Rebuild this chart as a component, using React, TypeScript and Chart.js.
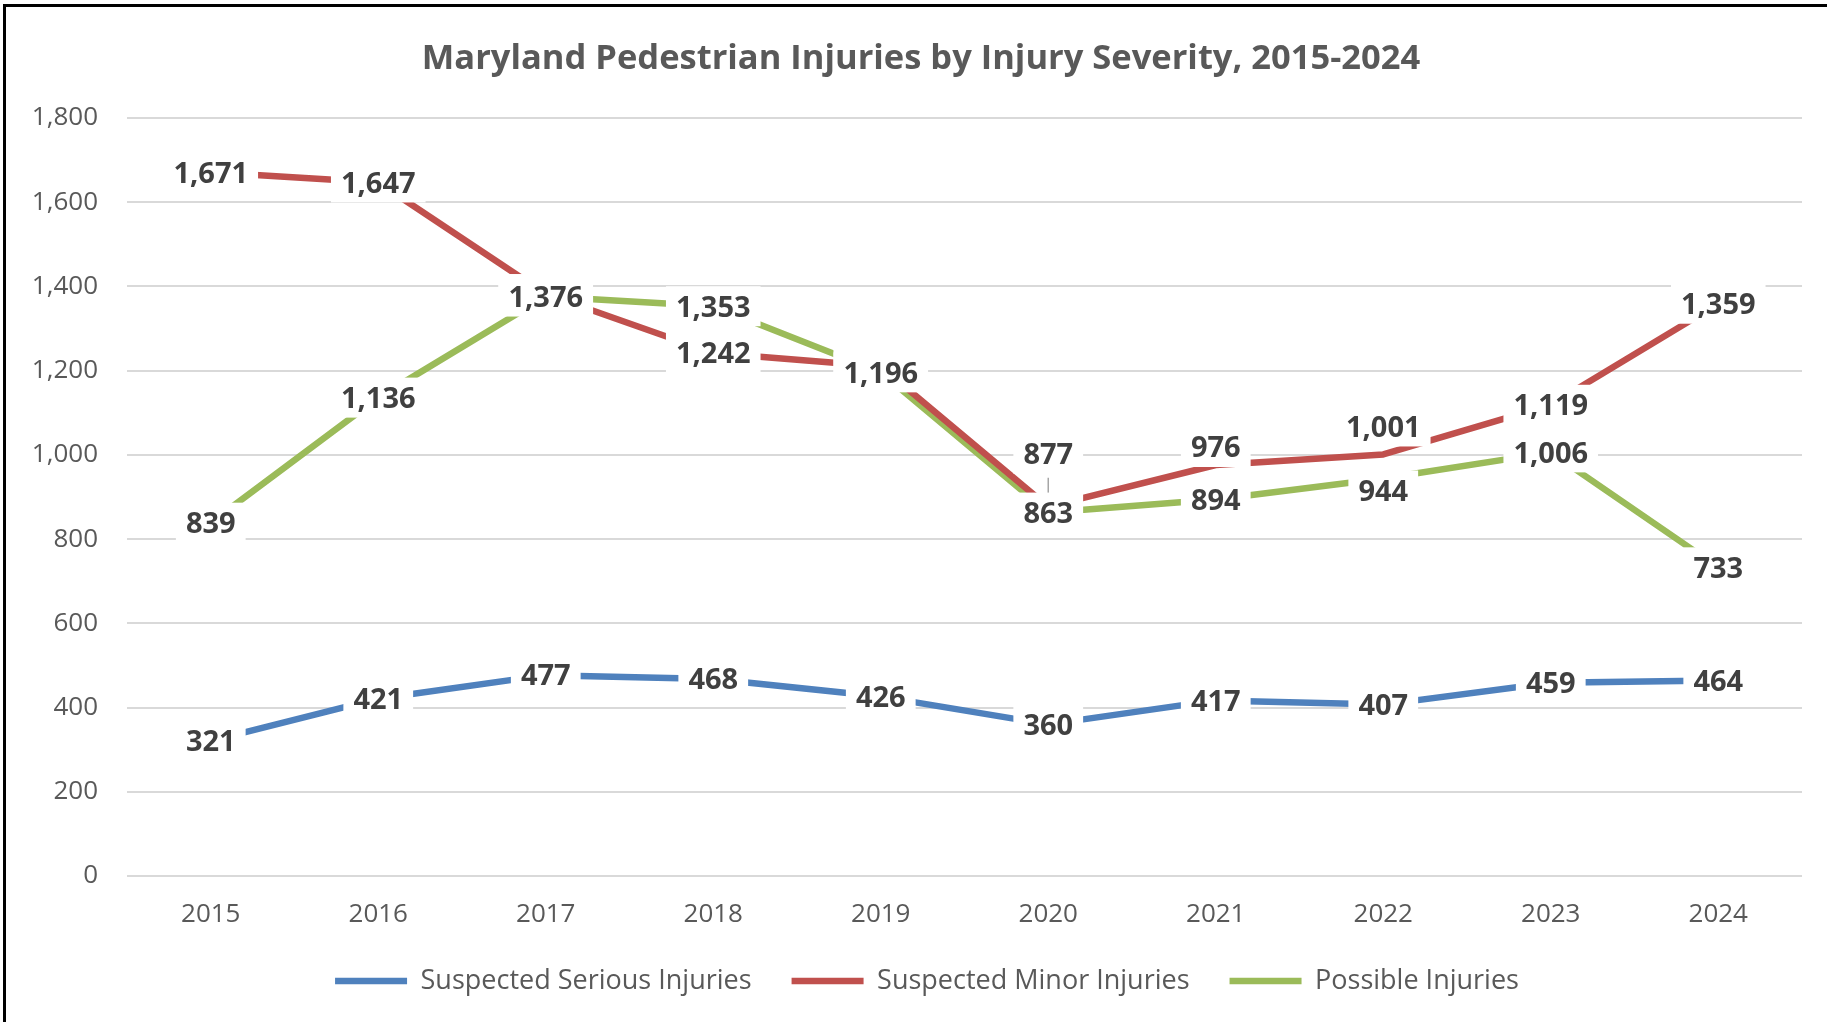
import React, { useEffect, useRef } from "react";
import { Chart, registerables } from "chart.js";

Chart.register(...registerables);

// ---- data ----
const years = ["2015", "2016", "2017", "2018", "2019", "2020", "2021", "2022", "2023", "2024"];
const seriousInjuries = [321, 421, 477, 468, 426, 360, 417, 407, 459, 464];
const minorInjuries = [1671, 1647, 1382, 1242, 1210, 877, 976, 1001, 1119, 1359];
const possibleInjuries = [839, 1136, 1376, 1353, 1196, 863, 894, 944, 1006, 733];
const seriesNames = ["Suspected Serious Injuries", "Suspected Minor Injuries", "Possible Injuries"];
const seriesColors = ["#4F81BD", "#C0504D", "#9BBB59"];
const titleText = "Maryland Pedestrian Injuries by Injury Severity, 2015-2024";
const yMin = 0;
const yMax = 1800;
const yStep = 200;

// manual label nudges (pixels), by dataset index then point index
const labelShift: Record<number, Record<number, number>> = {
  1: { 5: -53, 6: -18, 7: -28 },
  2: { 7: 12 },
};

const FONT = "'Open Sans', 'Noto Sans', sans-serif";
const fmt = (v: number) => v.toLocaleString("en-US");

const valueLabels = {
  id: "valueLabels",
  afterDatasetsDraw(chart: any) {
    const ctx: CanvasRenderingContext2D = chart.ctx;
    ctx.save();
    ctx.font = `bold 29px ${FONT}`;
    ctx.textAlign = "center";
    ctx.textBaseline = "middle";
    const boxH = 40;
    const padX = 10;
    chart.data.datasets.forEach((ds: any, di: number) => {
      const meta = chart.getDatasetMeta(di);
      meta.data.forEach((pt: any, i: number) => {
        const v = ds.data[i] as number;
        const text = fmt(v);
        const shift = (labelShift[di] && labelShift[di][i]) || 0;
        const x = pt.x;
        const y = pt.y + shift;
        if (Math.abs(shift) > 40) {
          ctx.strokeStyle = "#A6A6A6";
          ctx.lineWidth = 1.5;
          ctx.beginPath();
          ctx.moveTo(x, y + boxH / 2 + 4);
          ctx.lineTo(x, pt.y - 3);
          ctx.stroke();
        }
        const w = ctx.measureText(text).width + padX * 2;
        ctx.fillStyle = "#FFFFFF";
        ctx.fillRect(x - w / 2, y - boxH / 2, w, boxH);
        ctx.fillStyle = "#404040";
        ctx.fillText(text, x, y + 2);
      });
    });
    ctx.restore();
  },
};

// nudge title and legend boxes horizontally so they are centred like the original
const boxNudge = {
  id: "boxNudge",
  afterLayout(chart: any) {
    if (chart.titleBlock) {
      chart.titleBlock.left += 20;
      chart.titleBlock.right += 20;
    }
    if (chart.legend) {
      chart.legend.left += 26;
      chart.legend.right += 26;
    }
  },
};

export default function App() {
  const ref = useRef<HTMLCanvasElement>(null);

  useEffect(() => {
    const seriesData = [seriousInjuries, minorInjuries, possibleInjuries];
    const chart = new Chart(ref.current as HTMLCanvasElement, {
      type: "line",
      data: {
        labels: years,
        datasets: seriesData.map((d, k) => ({
          label: seriesNames[k],
          data: d,
          borderColor: seriesColors[k],
          backgroundColor: seriesColors[k],
          borderWidth: 6.5,
          pointRadius: 0,
          pointHoverRadius: 0,
          tension: 0,
          fill: false,
          borderCapStyle: "round" as const,
          borderJoinStyle: "round" as const,
        })),
      },
      options: {
        animation: false,
        responsive: false,
        maintainAspectRatio: false,
        layout: { padding: { left: 0, right: 25, top: 0, bottom: 17.5 } },
        plugins: {
          title: {
            display: true,
            text: titleText,
            color: "#595959",
            font: { family: FONT, size: 34.5, weight: "bold" },
            padding: { top: 38, bottom: 38.6 },
          },
          legend: {
            position: "bottom",
            labels: {
              usePointStyle: true,
              pointStyle: "line",
              pointStyleWidth: 72,
              boxHeight: 7,
              padding: 40,
              color: "#595959",
              font: { family: FONT, size: 27 },
            },
          },
          tooltip: { enabled: false },
        },
        scales: {
          x: {
            offset: true,
            grid: { display: false, drawTicks: false },
            border: { display: false },
            ticks: { color: "#595959", font: { family: FONT, size: 26 }, padding: 23 },
            afterFit: (s: any) => {
              s.height = 51.5;
            },
          },
          y: {
            min: yMin,
            max: yMax,
            grid: { color: "#D9D9D9", lineWidth: 2, drawTicks: false },
            border: { display: false },
            ticks: {
              stepSize: yStep,
              color: "#595959",
              font: { family: FONT, size: 26 },
              padding: 29,
              callback: (v: any) => fmt(Number(v)),
            },
            afterFit: (s: any) => {
              s.width = 127;
            },
          },
        },
      },
      plugins: [valueLabels, boxNudge],
    } as any);
    return () => chart.destroy();
  }, []);

  return (
    <div
      style={{
        position: "fixed",
        left: 0,
        top: 0,
        width: 1827,
        height: 1022,
        background: "#FFFFFF",
        overflow: "hidden",
      }}
    >
      <canvas ref={ref} width={1827} height={1022} style={{ display: "block", width: 1827, height: 1022 }} />
      <div
        style={{
          position: "absolute",
          left: 3,
          top: 4,
          right: 0,
          bottom: 0,
          borderLeft: "3px solid #000",
          borderTop: "3px solid #000",
          pointerEvents: "none",
        }}
      />
    </div>
  );
}
